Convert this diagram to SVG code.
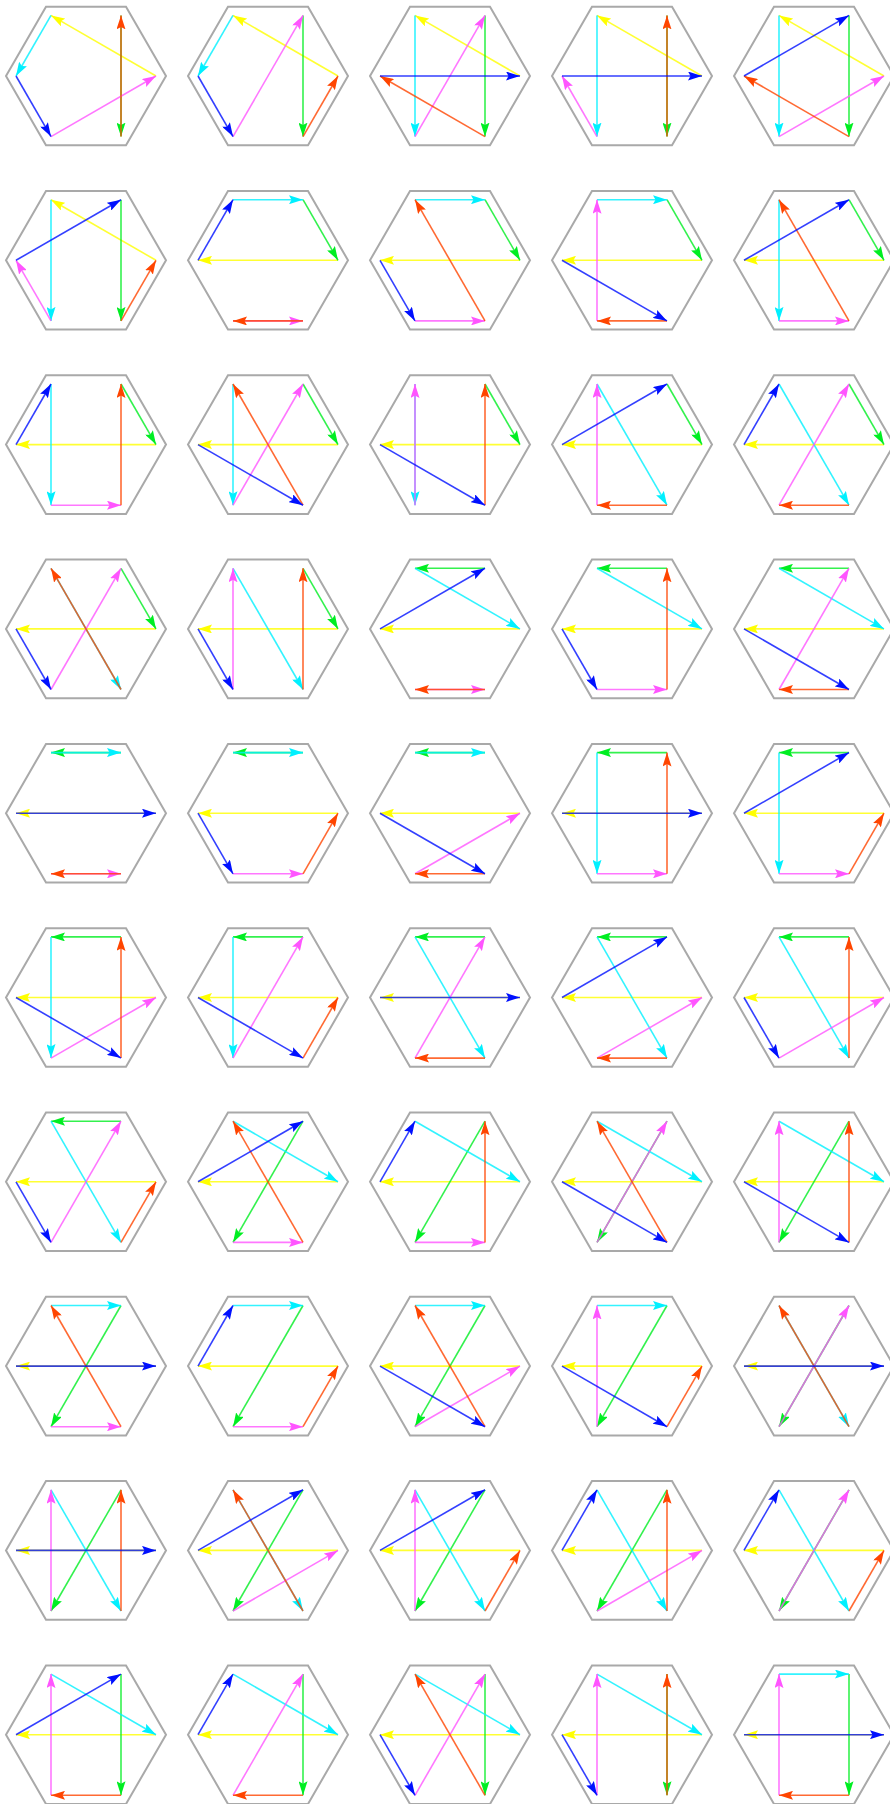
<svg xmlns="http://www.w3.org/2000/svg" xmlns:xlink="http://www.w3.org/1999/xlink" width="890" height="1804" viewBox="0 0 890 1804">
<style>
.hx{fill:none;stroke:#a9a9a9;stroke-width:2}
.a path{fill:none;stroke-width:1.6;stroke-opacity:0.8}
.y{stroke:#ffff00;marker-end:url(#my)}
.g{stroke:#00ee22;marker-end:url(#mg)}
.c{stroke:#00f0ff;marker-end:url(#mc)}
.m{stroke:#ff55ff;marker-end:url(#mm)}
.r{stroke:#ff4500;marker-end:url(#mr)}
.b{stroke:#0010ff;marker-end:url(#mb)}
</style>
<defs>
<polygon id="hex" class="hx" points="80,0 40,69.3 -40,69.3 -80,0 -40,-69.3 40,-69.3"/>
<marker id="my" markerUnits="userSpaceOnUse" viewBox="0 0 14 9" refX="14" refY="4.5" markerWidth="14" markerHeight="9" orient="auto"><path d="M0,0L14,4.5L0,9L2.5,4.5z" fill="#ffff00"/></marker>
<marker id="mg" markerUnits="userSpaceOnUse" viewBox="0 0 14 9" refX="14" refY="4.5" markerWidth="14" markerHeight="9" orient="auto"><path d="M0,0L14,4.5L0,9L2.5,4.5z" fill="#00ee22"/></marker>
<marker id="mc" markerUnits="userSpaceOnUse" viewBox="0 0 14 9" refX="14" refY="4.5" markerWidth="14" markerHeight="9" orient="auto"><path d="M0,0L14,4.5L0,9L2.5,4.5z" fill="#00f0ff"/></marker>
<marker id="mm" markerUnits="userSpaceOnUse" viewBox="0 0 14 9" refX="14" refY="4.5" markerWidth="14" markerHeight="9" orient="auto"><path d="M0,0L14,4.5L0,9L2.5,4.5z" fill="#ff55ff"/></marker>
<marker id="mr" markerUnits="userSpaceOnUse" viewBox="0 0 14 9" refX="14" refY="4.5" markerWidth="14" markerHeight="9" orient="auto"><path d="M0,0L14,4.5L0,9L2.5,4.5z" fill="#ff4500"/></marker>
<marker id="mb" markerUnits="userSpaceOnUse" viewBox="0 0 14 9" refX="14" refY="4.5" markerWidth="14" markerHeight="9" orient="auto"><path d="M0,0L14,4.5L0,9L2.5,4.5z" fill="#0010ff"/></marker>
</defs>
<rect width="890" height="1804" fill="#ffffff"/>

<g id="hex-1-1" transform="translate(86,76)"><use href="#hex"/><g class="a">
<path class="y" d="M70,0L-35,-60.6"/><path class="g" d="M35,-60.6L35,60.6"/><path class="c" d="M-35,-60.6L-70,0"/><path class="m" d="M-35,60.6L70,0"/><path class="r" d="M35,60.6L35,-60.6"/><path class="b" d="M-70,0L-35,60.6"/></g></g>
<g id="hex-1-2" transform="translate(268,76)"><use href="#hex"/><g class="a">
<path class="y" d="M70,0L-35,-60.6"/><path class="g" d="M35,-60.6L35,60.6"/><path class="c" d="M-35,-60.6L-70,0"/><path class="m" d="M-35,60.6L35,-60.6"/><path class="r" d="M35,60.6L70,0"/><path class="b" d="M-70,0L-35,60.6"/></g></g>
<g id="hex-1-3" transform="translate(450,76)"><use href="#hex"/><g class="a">
<path class="y" d="M70,0L-35,-60.6"/><path class="g" d="M35,-60.6L35,60.6"/><path class="c" d="M-35,-60.6L-35,60.6"/><path class="m" d="M-35,60.6L35,-60.6"/><path class="r" d="M35,60.6L-70,0"/><path class="b" d="M-70,0L70,0"/></g></g>
<g id="hex-1-4" transform="translate(632,76)"><use href="#hex"/><g class="a">
<path class="y" d="M70,0L-35,-60.6"/><path class="g" d="M35,-60.6L35,60.6"/><path class="c" d="M-35,-60.6L-35,60.6"/><path class="m" d="M-35,60.6L-70,0"/><path class="r" d="M35,60.6L35,-60.6"/><path class="b" d="M-70,0L70,0"/></g></g>
<g id="hex-1-5" transform="translate(814,76)"><use href="#hex"/><g class="a">
<path class="y" d="M70,0L-35,-60.6"/><path class="g" d="M35,-60.6L35,60.6"/><path class="c" d="M-35,-60.6L-35,60.6"/><path class="m" d="M-35,60.6L70,0"/><path class="r" d="M35,60.6L-70,0"/><path class="b" d="M-70,0L35,-60.6"/></g></g>

<g id="hex-2-1" transform="translate(86,260.3)"><use href="#hex"/><g class="a">
<path class="y" d="M70,0L-35,-60.6"/><path class="g" d="M35,-60.6L35,60.6"/><path class="c" d="M-35,-60.6L-35,60.6"/><path class="m" d="M-35,60.6L-70,0"/><path class="r" d="M35,60.6L70,0"/><path class="b" d="M-70,0L35,-60.6"/></g></g>
<g id="hex-2-2" transform="translate(268,260.3)"><use href="#hex"/><g class="a">
<path class="y" d="M70,0L-70,0"/><path class="g" d="M35,-60.6L70,0"/><path class="c" d="M-35,-60.6L35,-60.6"/><path class="m" d="M-35,60.6L35,60.6"/><path class="r" d="M35,60.6L-35,60.6"/><path class="b" d="M-70,0L-35,-60.6"/></g></g>
<g id="hex-2-3" transform="translate(450,260.3)"><use href="#hex"/><g class="a">
<path class="y" d="M70,0L-70,0"/><path class="g" d="M35,-60.6L70,0"/><path class="c" d="M-35,-60.6L35,-60.6"/><path class="m" d="M-35,60.6L35,60.6"/><path class="r" d="M35,60.6L-35,-60.6"/><path class="b" d="M-70,0L-35,60.6"/></g></g>
<g id="hex-2-4" transform="translate(632,260.3)"><use href="#hex"/><g class="a">
<path class="y" d="M70,0L-70,0"/><path class="g" d="M35,-60.6L70,0"/><path class="c" d="M-35,-60.6L35,-60.6"/><path class="m" d="M-35,60.6L-35,-60.6"/><path class="r" d="M35,60.6L-35,60.6"/><path class="b" d="M-70,0L35,60.6"/></g></g>
<g id="hex-2-5" transform="translate(814,260.3)"><use href="#hex"/><g class="a">
<path class="y" d="M70,0L-70,0"/><path class="g" d="M35,-60.6L70,0"/><path class="c" d="M-35,-60.6L-35,60.6"/><path class="m" d="M-35,60.6L35,60.6"/><path class="r" d="M35,60.6L-35,-60.6"/><path class="b" d="M-70,0L35,-60.6"/></g></g>

<g id="hex-3-1" transform="translate(86,444.6)"><use href="#hex"/><g class="a">
<path class="y" d="M70,0L-70,0"/><path class="g" d="M35,-60.6L70,0"/><path class="c" d="M-35,-60.6L-35,60.6"/><path class="m" d="M-35,60.6L35,60.6"/><path class="r" d="M35,60.6L35,-60.6"/><path class="b" d="M-70,0L-35,-60.6"/></g></g>
<g id="hex-3-2" transform="translate(268,444.6)"><use href="#hex"/><g class="a">
<path class="y" d="M70,0L-70,0"/><path class="g" d="M35,-60.6L70,0"/><path class="c" d="M-35,-60.6L-35,60.6"/><path class="m" d="M-35,60.6L35,-60.6"/><path class="r" d="M35,60.6L-35,-60.6"/><path class="b" d="M-70,0L35,60.6"/></g></g>
<g id="hex-3-3" transform="translate(450,444.6)"><use href="#hex"/><g class="a">
<path class="y" d="M70,0L-70,0"/><path class="g" d="M35,-60.6L70,0"/><path class="c" d="M-35,-60.6L-35,60.6"/><path class="m" d="M-35,60.6L-35,-60.6"/><path class="r" d="M35,60.6L35,-60.6"/><path class="b" d="M-70,0L35,60.6"/></g></g>
<g id="hex-3-4" transform="translate(632,444.6)"><use href="#hex"/><g class="a">
<path class="y" d="M70,0L-70,0"/><path class="g" d="M35,-60.6L70,0"/><path class="c" d="M-35,-60.6L35,60.6"/><path class="m" d="M-35,60.6L-35,-60.6"/><path class="r" d="M35,60.6L-35,60.6"/><path class="b" d="M-70,0L35,-60.6"/></g></g>
<g id="hex-3-5" transform="translate(814,444.6)"><use href="#hex"/><g class="a">
<path class="y" d="M70,0L-70,0"/><path class="g" d="M35,-60.6L70,0"/><path class="c" d="M-35,-60.6L35,60.6"/><path class="m" d="M-35,60.6L35,-60.6"/><path class="r" d="M35,60.6L-35,60.6"/><path class="b" d="M-70,0L-35,-60.6"/></g></g>

<g id="hex-4-1" transform="translate(86,628.9)"><use href="#hex"/><g class="a">
<path class="y" d="M70,0L-70,0"/><path class="g" d="M35,-60.6L70,0"/><path class="c" d="M-35,-60.6L35,60.6"/><path class="m" d="M-35,60.6L35,-60.6"/><path class="r" d="M35,60.6L-35,-60.6"/><path class="b" d="M-70,0L-35,60.6"/></g></g>
<g id="hex-4-2" transform="translate(268,628.9)"><use href="#hex"/><g class="a">
<path class="y" d="M70,0L-70,0"/><path class="g" d="M35,-60.6L70,0"/><path class="c" d="M-35,-60.6L35,60.6"/><path class="m" d="M-35,60.6L-35,-60.6"/><path class="r" d="M35,60.6L35,-60.6"/><path class="b" d="M-70,0L-35,60.6"/></g></g>
<g id="hex-4-3" transform="translate(450,628.9)"><use href="#hex"/><g class="a">
<path class="y" d="M70,0L-70,0"/><path class="g" d="M35,-60.6L-35,-60.6"/><path class="c" d="M-35,-60.6L70,0"/><path class="m" d="M-35,60.6L35,60.6"/><path class="r" d="M35,60.6L-35,60.6"/><path class="b" d="M-70,0L35,-60.6"/></g></g>
<g id="hex-4-4" transform="translate(632,628.9)"><use href="#hex"/><g class="a">
<path class="y" d="M70,0L-70,0"/><path class="g" d="M35,-60.6L-35,-60.6"/><path class="c" d="M-35,-60.6L70,0"/><path class="m" d="M-35,60.6L35,60.6"/><path class="r" d="M35,60.6L35,-60.6"/><path class="b" d="M-70,0L-35,60.6"/></g></g>
<g id="hex-4-5" transform="translate(814,628.9)"><use href="#hex"/><g class="a">
<path class="y" d="M70,0L-70,0"/><path class="g" d="M35,-60.6L-35,-60.6"/><path class="c" d="M-35,-60.6L70,0"/><path class="m" d="M-35,60.6L35,-60.6"/><path class="r" d="M35,60.6L-35,60.6"/><path class="b" d="M-70,0L35,60.6"/></g></g>

<g id="hex-5-1" transform="translate(86,813.2)"><use href="#hex"/><g class="a">
<path class="y" d="M70,0L-70,0"/><path class="g" d="M35,-60.6L-35,-60.6"/><path class="c" d="M-35,-60.6L35,-60.6"/><path class="m" d="M-35,60.6L35,60.6"/><path class="r" d="M35,60.6L-35,60.6"/><path class="b" d="M-70,0L70,0"/></g></g>
<g id="hex-5-2" transform="translate(268,813.2)"><use href="#hex"/><g class="a">
<path class="y" d="M70,0L-70,0"/><path class="g" d="M35,-60.6L-35,-60.6"/><path class="c" d="M-35,-60.6L35,-60.6"/><path class="m" d="M-35,60.6L35,60.6"/><path class="r" d="M35,60.6L70,0"/><path class="b" d="M-70,0L-35,60.6"/></g></g>
<g id="hex-5-3" transform="translate(450,813.2)"><use href="#hex"/><g class="a">
<path class="y" d="M70,0L-70,0"/><path class="g" d="M35,-60.6L-35,-60.6"/><path class="c" d="M-35,-60.6L35,-60.6"/><path class="m" d="M-35,60.6L70,0"/><path class="r" d="M35,60.6L-35,60.6"/><path class="b" d="M-70,0L35,60.6"/></g></g>
<g id="hex-5-4" transform="translate(632,813.2)"><use href="#hex"/><g class="a">
<path class="y" d="M70,0L-70,0"/><path class="g" d="M35,-60.6L-35,-60.6"/><path class="c" d="M-35,-60.6L-35,60.6"/><path class="m" d="M-35,60.6L35,60.6"/><path class="r" d="M35,60.6L35,-60.6"/><path class="b" d="M-70,0L70,0"/></g></g>
<g id="hex-5-5" transform="translate(814,813.2)"><use href="#hex"/><g class="a">
<path class="y" d="M70,0L-70,0"/><path class="g" d="M35,-60.6L-35,-60.6"/><path class="c" d="M-35,-60.6L-35,60.6"/><path class="m" d="M-35,60.6L35,60.6"/><path class="r" d="M35,60.6L70,0"/><path class="b" d="M-70,0L35,-60.6"/></g></g>

<g id="hex-6-1" transform="translate(86,997.5)"><use href="#hex"/><g class="a">
<path class="y" d="M70,0L-70,0"/><path class="g" d="M35,-60.6L-35,-60.6"/><path class="c" d="M-35,-60.6L-35,60.6"/><path class="m" d="M-35,60.6L70,0"/><path class="r" d="M35,60.6L35,-60.6"/><path class="b" d="M-70,0L35,60.6"/></g></g>
<g id="hex-6-2" transform="translate(268,997.5)"><use href="#hex"/><g class="a">
<path class="y" d="M70,0L-70,0"/><path class="g" d="M35,-60.6L-35,-60.6"/><path class="c" d="M-35,-60.6L-35,60.6"/><path class="m" d="M-35,60.6L35,-60.6"/><path class="r" d="M35,60.6L70,0"/><path class="b" d="M-70,0L35,60.6"/></g></g>
<g id="hex-6-3" transform="translate(450,997.5)"><use href="#hex"/><g class="a">
<path class="y" d="M70,0L-70,0"/><path class="g" d="M35,-60.6L-35,-60.6"/><path class="c" d="M-35,-60.6L35,60.6"/><path class="m" d="M-35,60.6L35,-60.6"/><path class="r" d="M35,60.6L-35,60.6"/><path class="b" d="M-70,0L70,0"/></g></g>
<g id="hex-6-4" transform="translate(632,997.5)"><use href="#hex"/><g class="a">
<path class="y" d="M70,0L-70,0"/><path class="g" d="M35,-60.6L-35,-60.6"/><path class="c" d="M-35,-60.6L35,60.6"/><path class="m" d="M-35,60.6L70,0"/><path class="r" d="M35,60.6L-35,60.6"/><path class="b" d="M-70,0L35,-60.6"/></g></g>
<g id="hex-6-5" transform="translate(814,997.5)"><use href="#hex"/><g class="a">
<path class="y" d="M70,0L-70,0"/><path class="g" d="M35,-60.6L-35,-60.6"/><path class="c" d="M-35,-60.6L35,60.6"/><path class="m" d="M-35,60.6L70,0"/><path class="r" d="M35,60.6L35,-60.6"/><path class="b" d="M-70,0L-35,60.6"/></g></g>

<g id="hex-7-1" transform="translate(86,1181.8)"><use href="#hex"/><g class="a">
<path class="y" d="M70,0L-70,0"/><path class="g" d="M35,-60.6L-35,-60.6"/><path class="c" d="M-35,-60.6L35,60.6"/><path class="m" d="M-35,60.6L35,-60.6"/><path class="r" d="M35,60.6L70,0"/><path class="b" d="M-70,0L-35,60.6"/></g></g>
<g id="hex-7-2" transform="translate(268,1181.8)"><use href="#hex"/><g class="a">
<path class="y" d="M70,0L-70,0"/><path class="g" d="M35,-60.6L-35,60.6"/><path class="c" d="M-35,-60.6L70,0"/><path class="m" d="M-35,60.6L35,60.6"/><path class="r" d="M35,60.6L-35,-60.6"/><path class="b" d="M-70,0L35,-60.6"/></g></g>
<g id="hex-7-3" transform="translate(450,1181.8)"><use href="#hex"/><g class="a">
<path class="y" d="M70,0L-70,0"/><path class="g" d="M35,-60.6L-35,60.6"/><path class="c" d="M-35,-60.6L70,0"/><path class="m" d="M-35,60.6L35,60.6"/><path class="r" d="M35,60.6L35,-60.6"/><path class="b" d="M-70,0L-35,-60.6"/></g></g>
<g id="hex-7-4" transform="translate(632,1181.8)"><use href="#hex"/><g class="a">
<path class="y" d="M70,0L-70,0"/><path class="g" d="M35,-60.6L-35,60.6"/><path class="c" d="M-35,-60.6L70,0"/><path class="m" d="M-35,60.6L35,-60.6"/><path class="r" d="M35,60.6L-35,-60.6"/><path class="b" d="M-70,0L35,60.6"/></g></g>
<g id="hex-7-5" transform="translate(814,1181.8)"><use href="#hex"/><g class="a">
<path class="y" d="M70,0L-70,0"/><path class="g" d="M35,-60.6L-35,60.6"/><path class="c" d="M-35,-60.6L70,0"/><path class="m" d="M-35,60.6L-35,-60.6"/><path class="r" d="M35,60.6L35,-60.6"/><path class="b" d="M-70,0L35,60.6"/></g></g>

<g id="hex-8-1" transform="translate(86,1366.1)"><use href="#hex"/><g class="a">
<path class="y" d="M70,0L-70,0"/><path class="g" d="M35,-60.6L-35,60.6"/><path class="c" d="M-35,-60.6L35,-60.6"/><path class="m" d="M-35,60.6L35,60.6"/><path class="r" d="M35,60.6L-35,-60.6"/><path class="b" d="M-70,0L70,0"/></g></g>
<g id="hex-8-2" transform="translate(268,1366.1)"><use href="#hex"/><g class="a">
<path class="y" d="M70,0L-70,0"/><path class="g" d="M35,-60.6L-35,60.6"/><path class="c" d="M-35,-60.6L35,-60.6"/><path class="m" d="M-35,60.6L35,60.6"/><path class="r" d="M35,60.6L70,0"/><path class="b" d="M-70,0L-35,-60.6"/></g></g>
<g id="hex-8-3" transform="translate(450,1366.1)"><use href="#hex"/><g class="a">
<path class="y" d="M70,0L-70,0"/><path class="g" d="M35,-60.6L-35,60.6"/><path class="c" d="M-35,-60.6L35,-60.6"/><path class="m" d="M-35,60.6L70,0"/><path class="r" d="M35,60.6L-35,-60.6"/><path class="b" d="M-70,0L35,60.6"/></g></g>
<g id="hex-8-4" transform="translate(632,1366.1)"><use href="#hex"/><g class="a">
<path class="y" d="M70,0L-70,0"/><path class="g" d="M35,-60.6L-35,60.6"/><path class="c" d="M-35,-60.6L35,-60.6"/><path class="m" d="M-35,60.6L-35,-60.6"/><path class="r" d="M35,60.6L70,0"/><path class="b" d="M-70,0L35,60.6"/></g></g>
<g id="hex-8-5" transform="translate(814,1366.1)"><use href="#hex"/><g class="a">
<path class="y" d="M70,0L-70,0"/><path class="g" d="M35,-60.6L-35,60.6"/><path class="c" d="M-35,-60.6L35,60.6"/><path class="m" d="M-35,60.6L35,-60.6"/><path class="r" d="M35,60.6L-35,-60.6"/><path class="b" d="M-70,0L70,0"/></g></g>

<g id="hex-9-1" transform="translate(86,1550.4)"><use href="#hex"/><g class="a">
<path class="y" d="M70,0L-70,0"/><path class="g" d="M35,-60.6L-35,60.6"/><path class="c" d="M-35,-60.6L35,60.6"/><path class="m" d="M-35,60.6L-35,-60.6"/><path class="r" d="M35,60.6L35,-60.6"/><path class="b" d="M-70,0L70,0"/></g></g>
<g id="hex-9-2" transform="translate(268,1550.4)"><use href="#hex"/><g class="a">
<path class="y" d="M70,0L-70,0"/><path class="g" d="M35,-60.6L-35,60.6"/><path class="c" d="M-35,-60.6L35,60.6"/><path class="m" d="M-35,60.6L70,0"/><path class="r" d="M35,60.6L-35,-60.6"/><path class="b" d="M-70,0L35,-60.6"/></g></g>
<g id="hex-9-3" transform="translate(450,1550.4)"><use href="#hex"/><g class="a">
<path class="y" d="M70,0L-70,0"/><path class="g" d="M35,-60.6L-35,60.6"/><path class="c" d="M-35,-60.6L35,60.6"/><path class="m" d="M-35,60.6L-35,-60.6"/><path class="r" d="M35,60.6L70,0"/><path class="b" d="M-70,0L35,-60.6"/></g></g>
<g id="hex-9-4" transform="translate(632,1550.4)"><use href="#hex"/><g class="a">
<path class="y" d="M70,0L-70,0"/><path class="g" d="M35,-60.6L-35,60.6"/><path class="c" d="M-35,-60.6L35,60.6"/><path class="m" d="M-35,60.6L70,0"/><path class="r" d="M35,60.6L35,-60.6"/><path class="b" d="M-70,0L-35,-60.6"/></g></g>
<g id="hex-9-5" transform="translate(814,1550.4)"><use href="#hex"/><g class="a">
<path class="y" d="M70,0L-70,0"/><path class="g" d="M35,-60.6L-35,60.6"/><path class="c" d="M-35,-60.6L35,60.6"/><path class="m" d="M-35,60.6L35,-60.6"/><path class="r" d="M35,60.6L70,0"/><path class="b" d="M-70,0L-35,-60.6"/></g></g>

<g id="hex-10-1" transform="translate(86,1734.7)"><use href="#hex"/><g class="a">
<path class="y" d="M70,0L-70,0"/><path class="g" d="M35,-60.6L35,60.6"/><path class="c" d="M-35,-60.6L70,0"/><path class="m" d="M-35,60.6L-35,-60.6"/><path class="r" d="M35,60.6L-35,60.6"/><path class="b" d="M-70,0L35,-60.6"/></g></g>
<g id="hex-10-2" transform="translate(268,1734.7)"><use href="#hex"/><g class="a">
<path class="y" d="M70,0L-70,0"/><path class="g" d="M35,-60.6L35,60.6"/><path class="c" d="M-35,-60.6L70,0"/><path class="m" d="M-35,60.6L35,-60.6"/><path class="r" d="M35,60.6L-35,60.6"/><path class="b" d="M-70,0L-35,-60.6"/></g></g>
<g id="hex-10-3" transform="translate(450,1734.7)"><use href="#hex"/><g class="a">
<path class="y" d="M70,0L-70,0"/><path class="g" d="M35,-60.6L35,60.6"/><path class="c" d="M-35,-60.6L70,0"/><path class="m" d="M-35,60.6L35,-60.6"/><path class="r" d="M35,60.6L-35,-60.6"/><path class="b" d="M-70,0L-35,60.6"/></g></g>
<g id="hex-10-4" transform="translate(632,1734.7)"><use href="#hex"/><g class="a">
<path class="y" d="M70,0L-70,0"/><path class="g" d="M35,-60.6L35,60.6"/><path class="c" d="M-35,-60.6L70,0"/><path class="m" d="M-35,60.6L-35,-60.6"/><path class="r" d="M35,60.6L35,-60.6"/><path class="b" d="M-70,0L-35,60.6"/></g></g>
<g id="hex-10-5" transform="translate(814,1734.7)"><use href="#hex"/><g class="a">
<path class="y" d="M70,0L-70,0"/><path class="g" d="M35,-60.6L35,60.6"/><path class="c" d="M-35,-60.6L35,-60.6"/><path class="m" d="M-35,60.6L-35,-60.6"/><path class="r" d="M35,60.6L-35,60.6"/><path class="b" d="M-70,0L70,0"/></g></g>
</svg>
